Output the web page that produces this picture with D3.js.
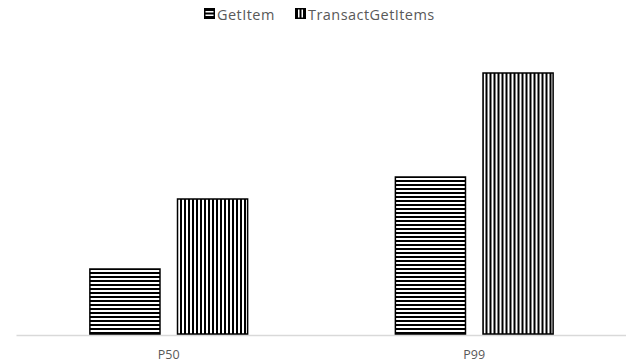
<!DOCTYPE html>
<html>
<head>
<meta charset="utf-8">
<script src="https://cdn.jsdelivr.net/npm/d3@7"></script>
<style>
  html, body { margin: 0; padding: 0; background: #fff; }
  svg { display: block; }
  text { font-family: "Open Sans", "Noto Sans", sans-serif; fill: #595959; }
</style>
</head>
<body>
<svg id="chart" width="626" height="364"></svg>
<script>
// ---- data ----
const categories = ["P50", "P99"];
const seriesNames = ["GetItem", "TransactGetItems"];
const getItemValues = [65, 157];
const transactGetItemsValues = [135, 261];
const seriesValues = [getItemValues, transactGetItemsValues];

// ---- layout ----
const W = 626, H = 364;
const baseY = 334, topY = 34;
const svg = d3.select("#chart");
const defs = svg.append("defs");

// patterns
const ph = defs.append("pattern").attr("id", "pat-h")
  .attr("patternUnits", "userSpaceOnUse").attr("width", 4).attr("height", 4);
ph.append("rect").attr("width", 4).attr("height", 4).attr("fill", "#fff");
ph.append("rect").attr("y", 0).attr("width", 4).attr("height", 2).attr("fill", "#000");

const pv = defs.append("pattern").attr("id", "pat-v")
  .attr("patternUnits", "userSpaceOnUse").attr("width", 4).attr("height", 4);
pv.append("rect").attr("width", 4).attr("height", 4).attr("fill", "#fff");
pv.append("rect").attr("x", 0).attr("width", 2).attr("height", 4).attr("fill", "#000");

const fills = ["url(#pat-h)", "url(#pat-v)"];

const x0 = d3.scaleBand().domain(categories).range([16, 627]).padding(0);
const x1 = d3.scaleBand().domain(seriesNames).range([0, x0.bandwidth()])
  .paddingInner(0.2).paddingOuter(0.843);
const y = d3.scaleLinear().domain([0, 300]).range([baseY, topY]);

// axis
const xAxis = d3.axisBottom(x0).tickSize(0).tickPadding(0);
const ax = svg.append("g").attr("transform", `translate(0,${baseY + 1})`).call(xAxis);
ax.select(".domain").attr("stroke", "#d9d9d9").attr("stroke-width", 1.5);
ax.selectAll("text").attr("font-size", 12.5).attr("fill", "#595959")
  .attr("font-family", '"Open Sans", "Noto Sans", sans-serif')
  .attr("dy", 0).attr("y", 24);

// bars
const groups = svg.append("g").selectAll("g")
  .data(categories).join("g")
  .attr("transform", d => `translate(${x0(d)},0)`);

groups.selectAll("rect")
  .data((c, ci) => seriesNames.map((s, si) => ({ s, si, v: seriesValues[si][ci] })))
  .join("rect")
  .attr("x", d => x1(d.s))
  .attr("y", d => y(d.v))
  .attr("width", x1.bandwidth())
  .attr("height", d => baseY - y(d.v))
  .attr("fill", d => fills[d.si])
  .attr("stroke", "#000")
  .attr("stroke-width", 1.5);

// legend
const legendX = [204, 295];
const lg = svg.append("g").selectAll("g").data(seriesNames).join("g")
  .attr("transform", (d, i) => `translate(${legendX[i]},0)`);
lg.append("rect").attr("x", 0.75).attr("y", 8.75).attr("width", 9.5).attr("height", 9.5)
  .attr("fill", "#fff").attr("stroke", "#000").attr("stroke-width", 1.5);
lg.each(function (d, i) {
  const g = d3.select(this);
  if (i === 0) {
    g.append("rect").attr("x", 0).attr("y", 8).attr("width", 11).attr("height", 3).attr("fill", "#000");
    g.append("rect").attr("x", 0).attr("y", 12.5).attr("width", 11).attr("height", 2).attr("fill", "#000");
    g.append("rect").attr("x", 0).attr("y", 16).attr("width", 11).attr("height", 3).attr("fill", "#000");
  } else {
    g.append("rect").attr("x", 0).attr("y", 8).attr("width", 3).attr("height", 11).attr("fill", "#000");
    g.append("rect").attr("x", 4.5).attr("y", 8).attr("width", 2).attr("height", 11).attr("fill", "#000");
    g.append("rect").attr("x", 8).attr("y", 8).attr("width", 3).attr("height", 11).attr("fill", "#000");
  }
});
lg.append("text").attr("x", 13).attr("y", 19.5).attr("font-size", 14.5)
  .attr("letter-spacing", 0.45).text(d => d);
</script>
</body>
</html>
